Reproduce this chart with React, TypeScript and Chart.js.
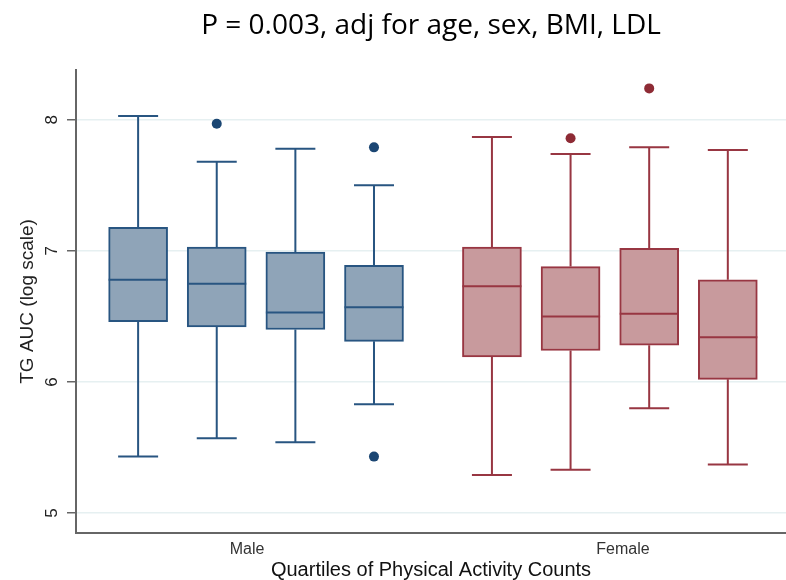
import React, { useEffect, useRef } from "react";
import { Chart, registerables } from "chart.js";

Chart.register(...registerables);

// ---- data ----
const malePositions = [1, 2, 3, 4];
const femalePositions = [5.5, 6.5, 7.5, 8.5];

const maleLow = [5.43, 5.57, 5.54, 5.83];
const maleQ1 = [6.46, 6.42, 6.4, 6.31];
const maleMedian = [6.78, 6.75, 6.53, 6.57];
const maleQ3 = [7.18, 7.03, 6.99, 6.89];
const maleHigh = [8.03, 7.68, 7.78, 7.5];
const maleOutliers = [
  { x: 2, y: 7.97 },
  { x: 4, y: 7.79 },
  { x: 4, y: 5.43 },
];

const femaleLow = [5.29, 5.33, 5.8, 5.37];
const femaleQ1 = [6.19, 6.24, 6.28, 6.02];
const femaleMedian = [6.73, 6.5, 6.52, 6.34];
const femaleQ3 = [7.03, 6.88, 7.02, 6.78];
const femaleHigh = [7.87, 7.74, 7.79, 7.77];
const femaleOutliers = [
  { x: 6.5, y: 7.86 },
  { x: 7.5, y: 8.24 },
];

const groupLabels = ["Male", "Female"];
const groupLabelPositions = [2.385, 7.167];
const yTickValues = [5, 6, 7, 8];

const titleText = "P = 0.003, adj for age, sex, BMI, LDL";
const yTitle = "TG AUC (log scale)";
const xTitle = "Quartiles of Physical Activity Counts";

// ---- styles ----
const MALE_FILL = "#8fa4b8";
const MALE_LINE = "#285581";
const MALE_DOT = "#1b4673";
const FEMALE_FILL = "#c89a9d";
const FEMALE_LINE = "#983642";
const FEMALE_DOT = "#8e2b35";
const BOX_WIDTH = 59;
const CAP_WIDTH = 40;

const groups = [
  { pos: malePositions, low: maleLow, q1: maleQ1, med: maleMedian, q3: maleQ3, high: maleHigh, line: MALE_LINE },
  { pos: femalePositions, low: femaleLow, q1: femaleQ1, med: femaleMedian, q3: femaleQ3, high: femaleHigh, line: FEMALE_LINE },
];

const whiskerPlugin = {
  id: "whiskers",
  beforeDatasetsDraw(chart: any) {
    const { ctx, scales } = chart;
    const x = scales.x;
    const y = scales.y;
    ctx.save();
    ctx.lineWidth = 2;
    groups.forEach((g) => {
      ctx.strokeStyle = g.line;
      g.pos.forEach((p, i) => {
        const cx = x.getPixelForValue(p);
        const yl = y.getPixelForValue(g.low[i]);
        const yh = y.getPixelForValue(g.high[i]);
        const y1 = y.getPixelForValue(g.q1[i]);
        const y3 = y.getPixelForValue(g.q3[i]);
        ctx.beginPath();
        ctx.moveTo(cx, y3);
        ctx.lineTo(cx, yh);
        ctx.moveTo(cx - CAP_WIDTH / 2, yh);
        ctx.lineTo(cx + CAP_WIDTH / 2, yh);
        ctx.moveTo(cx, y1);
        ctx.lineTo(cx, yl);
        ctx.moveTo(cx - CAP_WIDTH / 2, yl);
        ctx.lineTo(cx + CAP_WIDTH / 2, yl);
        ctx.stroke();
      });
    });
    ctx.restore();
  },
  afterDatasetsDraw(chart: any) {
    const { ctx, scales } = chart;
    const x = scales.x;
    const y = scales.y;
    ctx.save();
    ctx.lineWidth = 2;
    groups.forEach((g) => {
      ctx.strokeStyle = g.line;
      g.pos.forEach((p, i) => {
        const cx = x.getPixelForValue(p);
        const ym = y.getPixelForValue(g.med[i]);
        ctx.beginPath();
        ctx.moveTo(cx - BOX_WIDTH / 2, ym);
        ctx.lineTo(cx + BOX_WIDTH / 2, ym);
        ctx.stroke();
      });
    });
    ctx.restore();
  },
};

export default function App() {
  const ref = useRef<HTMLCanvasElement>(null);

  useEffect(() => {
    if (!ref.current) return;
    const chart = new Chart(ref.current, {
      type: "bar",
      data: {
        datasets: [
          {
            type: "bar",
            label: "Male",
            data: malePositions.map((p, i) => ({ x: p, y: [maleQ1[i], maleQ3[i]] })) as any,
            backgroundColor: MALE_FILL,
            borderColor: MALE_LINE,
            borderWidth: 2,
            borderSkipped: false,
            barThickness: BOX_WIDTH,
            grouped: false,
          } as any,
          {
            type: "bar",
            label: "Female",
            data: femalePositions.map((p, i) => ({ x: p, y: [femaleQ1[i], femaleQ3[i]] })) as any,
            backgroundColor: FEMALE_FILL,
            borderColor: FEMALE_LINE,
            borderWidth: 2,
            borderSkipped: false,
            barThickness: BOX_WIDTH,
            grouped: false,
          } as any,
          {
            type: "scatter",
            label: "Male outliers",
            data: maleOutliers,
            pointRadius: 5,
            pointBackgroundColor: MALE_DOT,
            pointBorderColor: MALE_DOT,
            pointBorderWidth: 0,
          } as any,
          {
            type: "scatter",
            label: "Female outliers",
            data: femaleOutliers,
            pointRadius: 5,
            pointBackgroundColor: FEMALE_DOT,
            pointBorderColor: FEMALE_DOT,
            pointBorderWidth: 0,
          } as any,
        ],
      },
      options: {
        responsive: false,
        animation: false,
        devicePixelRatio: 1,
        layout: { padding: 0, autoPadding: false },
        plugins: {
          legend: { display: false },
          tooltip: { enabled: false },
          title: {
            display: true,
            text: titleText,
            fullSize: false,
            color: "#000",
            font: { family: "Open Sans", size: 28, weight: "normal", lineHeight: 1.1 },
            padding: { top: 11, bottom: 28 },
          },
        },
        scales: {
          x: {
            type: "linear",
            offset: false,
            min: 0.21,
            max: 9.24,
            afterBuildTicks: (s: any) => {
              s.ticks = groupLabelPositions.map((v) => ({ value: v }));
            },
            afterFit: (s: any) => {
              s.height = 47;
              s.paddingLeft = 0;
              s.paddingRight = 0;
            },
            grid: { display: false, drawTicks: false },
            border: { display: true, color: "#666", width: 2 },
            ticks: {
              autoSkip: false,
              maxRotation: 0,
              padding: 7,
              color: "#333",
              font: { family: "Liberation Sans", size: 16 },
              callback: (_v: any, i: number) => groupLabels[i],
            },
            title: {
              display: true,
              text: xTitle,
              color: "#111",
              font: { family: "Liberation Sans", size: 20, lineHeight: 1 },
              padding: { top: 0, bottom: 0 },
            },
          },
          y: {
            type: "linear",
            min: 4.847,
            max: 8.382,
            afterBuildTicks: (s: any) => {
              s.ticks = yTickValues.map((v) => ({ value: v }));
            },
            afterFit: (s: any) => {
              s.width = 76;
            },
            grid: {
              color: "#e6f0f1",
              lineWidth: 1.5,
              drawTicks: true,
              tickLength: 9,
              tickColor: "#666",
              tickWidth: 1.5,
            },
            border: { display: true, color: "#666", width: 2 },
            ticks: {
              minRotation: 90,
              maxRotation: 90,
              crossAlign: "center",
              padding: 10,
              color: "#222",
              font: { family: "Liberation Sans", size: 17 },
            },
            title: {
              display: true,
              text: yTitle,
              color: "#222",
              font: { family: "Liberation Sans", size: 19 },
              padding: { top: 16, bottom: 0 },
            },
          },
        },
      } as any,
      plugins: [whiskerPlugin],
    });
    return () => chart.destroy();
  }, []);

  return (
    <div style={{ position: "absolute", left: 0, top: 0, width: 786, height: 580, background: "#fff" }}>
      <canvas ref={ref} width={786} height={580} />
    </div>
  );
}
